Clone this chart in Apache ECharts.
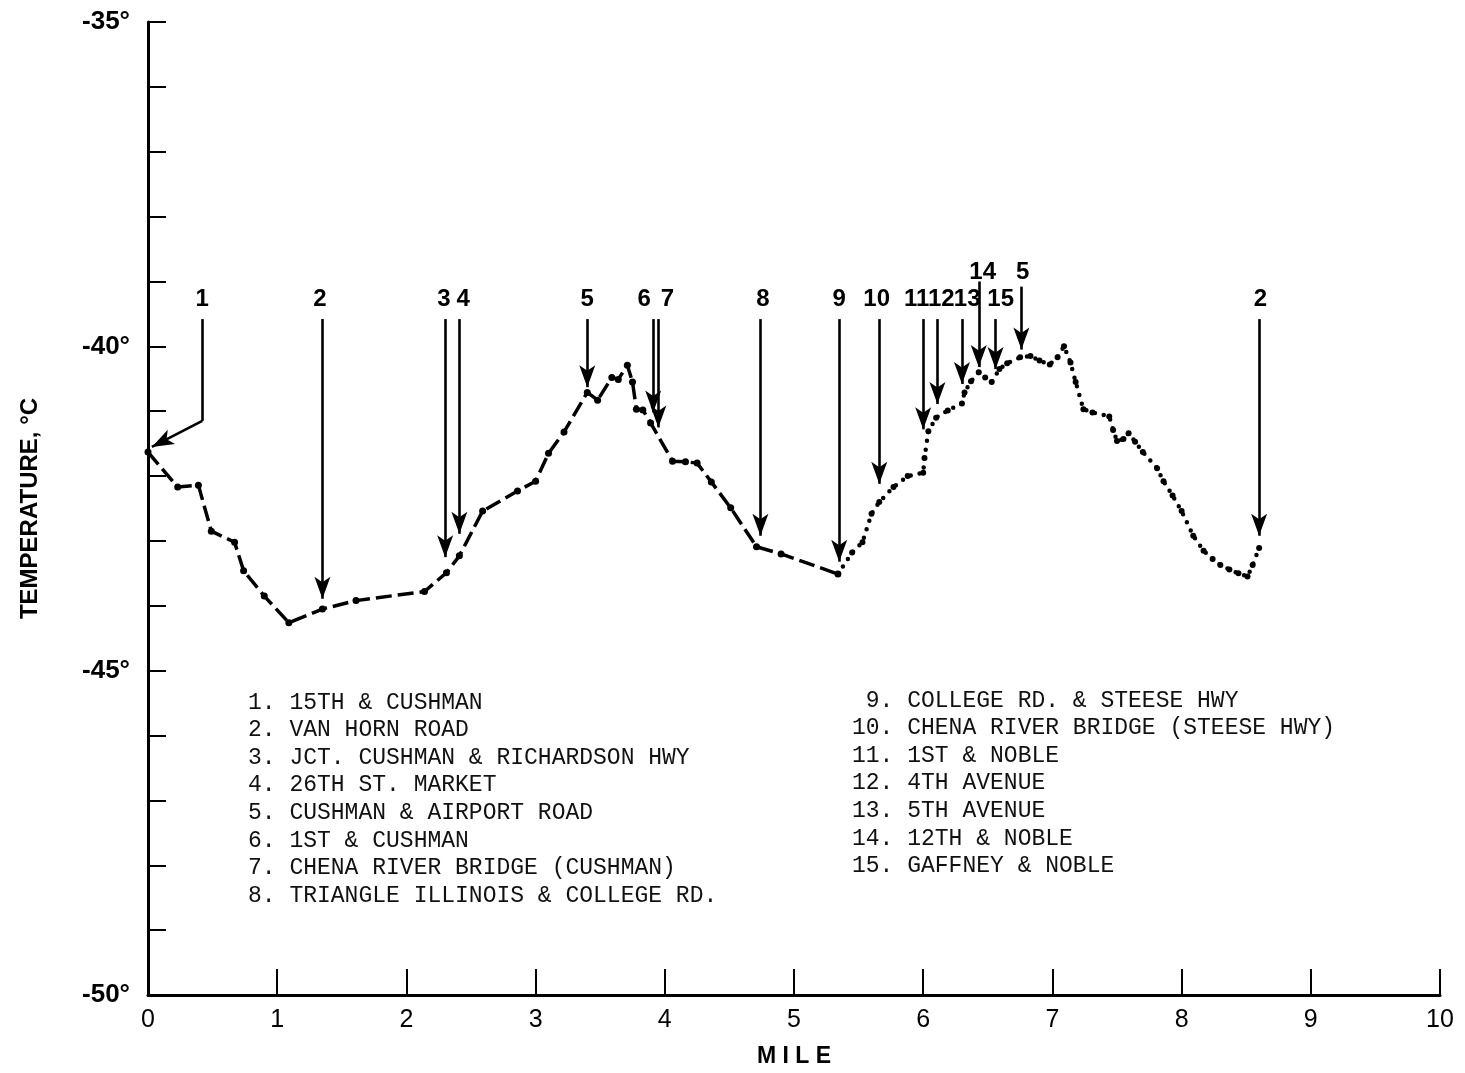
<!DOCTYPE html>
<html>
<head>
<meta charset="utf-8">
<script src="https://cdn.jsdelivr.net/npm/echarts@6/dist/echarts.min.js"></script>
<style>
html,body{margin:0;padding:0;background:#fff;overflow:hidden;}
#chart{width:1465px;height:1073px;}
</style>
</head>
<body>
<div id="chart"></div>
<script>
// ---------- DATA ----------
// Solid (dash-dot) traverse: mile, temperature (deg C)
const solidMiles = [0.00,0.23,0.39,0.49,0.67,0.74,0.90,1.09,1.35,1.61,2.14,2.31,2.41,2.59,2.86,3.00,3.10,3.22,3.40,3.48,3.59,3.64,3.71,3.75,3.78,3.83,3.89,4.06,4.16,4.25,4.36,4.51,4.71,4.90,5.34];
const solidTemps = [-41.63,-42.17,-42.14,-42.85,-43.02,-43.46,-43.85,-44.26,-44.05,-43.92,-43.78,-43.49,-43.23,-42.54,-42.23,-42.08,-41.65,-41.32,-40.71,-40.83,-40.48,-40.51,-40.29,-40.55,-40.97,-40.98,-41.18,-41.77,-41.78,-41.80,-42.09,-42.49,-43.09,-43.20,-43.51];

// Dotted traverse
const dottedMiles = [5.34,5.45,5.53,5.60,5.66,5.77,5.88,6.00,6.01,6.04,6.10,6.19,6.30,6.32,6.37,6.43,6.48,6.53,6.59,6.65,6.75,6.83,6.90,6.98,7.04,7.09,7.14,7.18,7.24,7.31,7.44,7.47,7.50,7.55,7.59,7.64,7.70,7.81,7.86,7.93,8.00,8.09,8.17,8.24,8.30,8.37,8.44,8.51,8.55,8.60];
const dottedTemps = [-43.51,-43.18,-43.02,-42.58,-42.40,-42.17,-42.00,-41.95,-41.72,-41.31,-41.10,-40.99,-40.88,-40.71,-40.54,-40.40,-40.48,-40.55,-40.35,-40.26,-40.17,-40.15,-40.22,-40.28,-40.17,-40.00,-40.25,-40.55,-40.97,-41.02,-41.08,-41.29,-41.46,-41.43,-41.34,-41.47,-41.63,-41.88,-42.08,-42.30,-42.54,-42.92,-43.15,-43.28,-43.37,-43.44,-43.50,-43.55,-43.37,-43.11];

// Location arrows
const arrowNames  = ['1','2','3','4','5','6','7','8','9','10','11','12','13','14','15','5','2'];
const arrowMiles  = [0.42,1.35,2.30,2.41,3.40,3.91,3.95,4.74,5.35,5.66,6.00,6.11,6.30,6.43,6.56,6.76,8.60];
const arrowTops   = [-39.58,-39.58,-39.58,-39.58,-39.58,-39.58,-39.58,-39.58,-39.58,-39.58,-39.58,-39.58,-39.58,-39.00,-39.58,-39.08,-39.58];
const arrowTips   = [-41.15,-43.89,-43.25,-42.89,-40.63,-41.02,-41.25,-42.92,-43.32,-42.12,-41.28,-40.89,-40.58,-40.32,-40.35,-40.05,-42.92];
const labelMiles  = [0.42,1.33,2.29,2.44,3.40,3.84,4.02,4.76,5.35,5.64,5.95,6.14,6.34,6.46,6.60,6.77,8.61];
const labelTemps  = [-39.28,-39.28,-39.28,-39.28,-39.28,-39.28,-39.28,-39.28,-39.28,-39.28,-39.28,-39.28,-39.28,-38.86,-39.28,-38.86,-39.28];
// Arrow 1 bends toward the start point
const arrow1Tip = [0.03, -41.55];

const xTicks = [0,1,2,3,4,5,6,7,8,9,10];
const yLabelTicks = [-35,-40,-45,-50];

const legendLeft = ['1. 15TH & CUSHMAN','2. VAN HORN ROAD','3. JCT. CUSHMAN & RICHARDSON HWY','4. 26TH ST. MARKET','5. CUSHMAN & AIRPORT ROAD','6. 1ST & CUSHMAN','7. CHENA RIVER BRIDGE (CUSHMAN)','8. TRIANGLE ILLINOIS & COLLEGE RD.'];
const legendRight = [' 9. COLLEGE RD. & STEESE HWY','10. CHENA RIVER BRIDGE (STEESE HWY)','11. 1ST & NOBLE','12. 4TH AVENUE','13. 5TH AVENUE','14. 12TH & NOBLE','15. GAFFNEY & NOBLE'];

// ---------- BUILD ----------
const solidData = solidMiles.map((m,i)=>[m, solidTemps[i]]);
const dottedData = dottedMiles.map((m,i)=>[m, dottedTemps[i]]);

const ink = '#000';
const markLines = [];
arrowNames.forEach((n,i)=>{
  if (i === 0) {
    markLines.push([{coord:[arrowMiles[i], arrowTops[i]], symbol:'none'},{coord:[arrowMiles[i], arrowTips[i]], symbol:'none'}]);
    markLines.push([{coord:[arrowMiles[i], arrowTips[i]], symbol:'none'},{coord:arrow1Tip, symbol:'arrow'}]);
  } else {
    markLines.push([{coord:[arrowMiles[i], arrowTops[i]], symbol:'none'},{coord:[arrowMiles[i], arrowTips[i]], symbol:'arrow'}]);
  }
});
const labelData = arrowNames.map((n,i)=>({value:[labelMiles[i], labelTemps[i]], name:n}));

const legendGraphics = [];
const lineGap = 27.6;
legendLeft.forEach((t,i)=>legendGraphics.push({type:'text', left:248, top:703 + i*lineGap - 12, style:{text:t, font:'23px "Liberation Mono", monospace', fill:'#111'}}));
legendRight.forEach((t,i)=>legendGraphics.push({type:'text', left:852, top:701 + i*lineGap - 12, style:{text:t, font:'23px "Liberation Mono", monospace', fill:'#111'}}));

const labelFont = '"Liberation Sans", Arial, sans-serif';

const chart = echarts.init(document.getElementById('chart'), null, {renderer:'canvas', width:1465, height:1073});
chart.setOption({
  animation:false,
  backgroundColor:'#fff',
  grid:{left:148, right:25, top:22, bottom:64, containLabel:false},
  xAxis:{
    type:'value', min:0, max:10, interval:1,
    name:'M I L E', nameLocation:'middle', nameGap:50,
    nameTextStyle:{fontFamily:labelFont, fontSize:23, fontWeight:'bold', color:ink},
    axisLine:{show:true, lineStyle:{color:ink, width:3}},
    axisTick:{show:true, inside:true, length:26, lineStyle:{color:ink, width:2}},
    axisLabel:{show:true, margin:13, fontFamily:labelFont, fontSize:25, color:ink,
      formatter:v=> xTicks.includes(v) ? String(v) : ''},
    splitLine:{show:false}
  },
  yAxis:{
    type:'value', min:-50, max:-35, interval:1,
    name:'TEMPERATURE, °C', nameLocation:'middle', nameGap:106, nameRotate:90,
    nameTextStyle:{fontFamily:labelFont, fontSize:24, fontWeight:'bold', color:ink},
    axisLine:{show:true, lineStyle:{color:ink, width:3}},
    axisTick:{show:true, inside:true, length:18, lineStyle:{color:ink, width:2}},
    axisLabel:{show:true, margin:18, fontFamily:labelFont, fontSize:26, fontWeight:'bold', color:ink,
      formatter:v=> yLabelTicks.includes(v) ? (v + '°') : ''},
    splitLine:{show:false}
  },
  graphic: legendGraphics,
  series:[
    {
      type:'line', name:'solid', data:solidData, silent:true,
      symbol:'circle', symbolSize:7, itemStyle:{color:ink},
      lineStyle:{color:ink, width:3.5, type:[16,6]},
      z:3
    },
    {
      type:'line', name:'dotted', data:dottedData, silent:true,
      symbol:'circle', symbolSize:6, itemStyle:{color:ink},
      lineStyle:{color:ink, width:4.5, type:[0,9], cap:'round'},
      z:3,
      markLine:{
        silent:true, animation:false,
        symbolSize:[12,22],
        label:{show:false},
        lineStyle:{color:ink, width:2.6, type:'solid', opacity:1},
        emphasis:{disabled:true},
        data: markLines
      }
    },
    {
      type:'scatter', name:'labels', data:labelData, silent:true,
      symbolSize:1, itemStyle:{opacity:0},
      label:{show:true, position:'inside', formatter:p=>p.name, fontFamily:labelFont, fontSize:24, fontWeight:'bold', color:'#000', opacity:1},
      z:4
    }
  ]
});
</script>
</body>
</html>
